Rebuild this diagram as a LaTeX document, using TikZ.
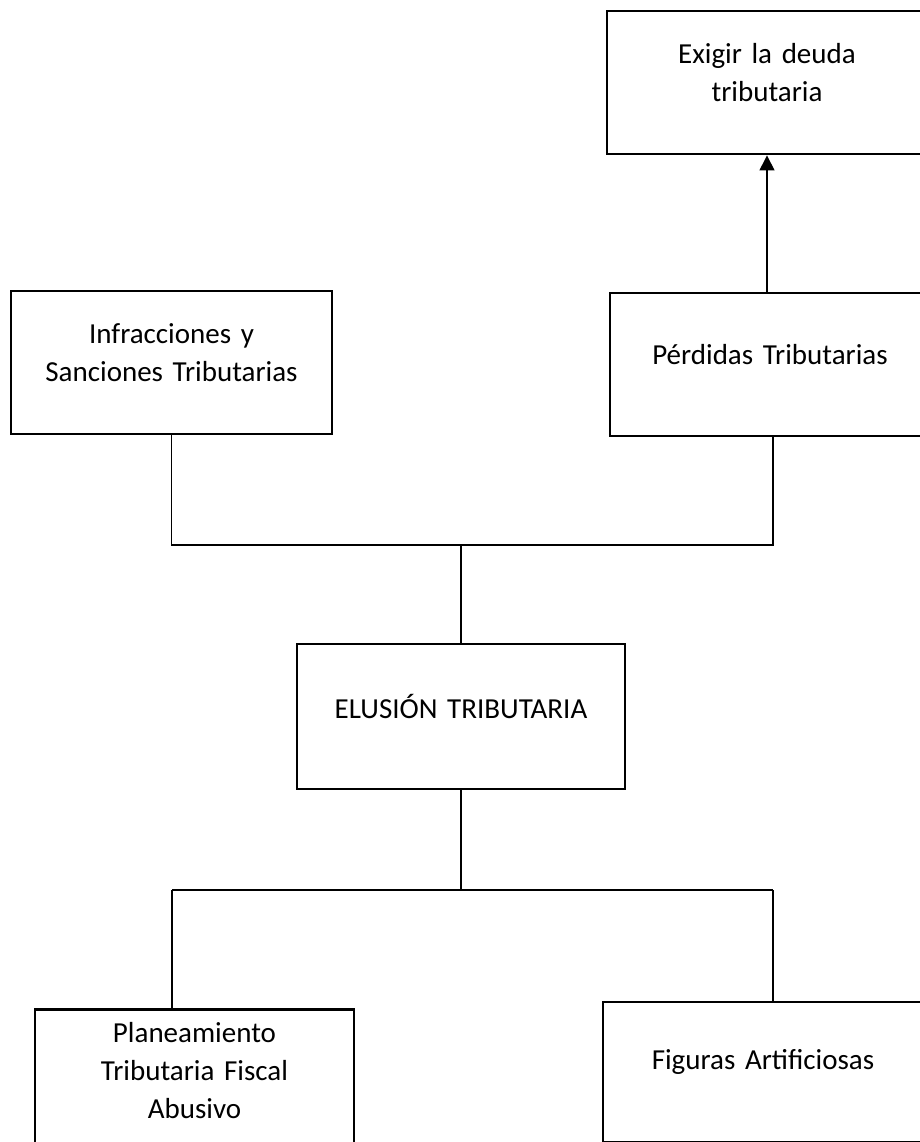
\documentclass[tikz,border=0pt]{standalone}
\usepackage{fontspec}
\setmainfont{Carlito}
\usetikzlibrary{arrows.meta, positioning, calc}
\tikzset{
  box/.style   = {draw=black, line width=1.4pt, rectangle, minimum width=160pt,
                  minimum height=71.5pt, text width=152pt, align=center, inner sep=0pt,
                  font=\fontsize{14.5}{19}\selectfont,
                  execute at end node={\par\kern10pt}},
  link/.style  = {draw=black, line width=0.55pt},
  arrow/.style = {-{Triangle[width=7.5pt, length=7.5pt]}, line width=0.55pt},
}

\begin{document}
\begin{tikzpicture}[x=0.5pt, y=-0.5pt]
  \useasboundingbox (0,0) rectangle (920,1142);

  \node[box] (exigir) at (767,82.5) {Exigir la deuda\\tributaria};
  \node[box, minimum width=160.5pt] (infr) at (171.5,362.5) {Infracciones y\\Sanciones Tributarias};
  \node[box] (perd) at (770,364.5) {Pérdidas Tributarias};
  \node[box, minimum width=164pt, minimum height=72.5pt] (elus) at (461,716.5) {ELUSIÓN TRIBUTARIA};
  \node[box, minimum width=159.5pt] (plan) at (194.5,1081) {Planeamiento\\Tributaria Fiscal\\Abusivo};
  \node[box, minimum height=70pt] (fig) at (763,1072) {Figuras Artificiosas};

  % junctions
  \coordinate (upj)  at (461,545);
  \coordinate (lowj) at (461,890);
  \coordinate (lowl) at (172,890);
  \coordinate (lowr) at (773,890);

  \draw[arrow] (perd.north -| exigir.south) -- (exigir.south);
  \draw[link] (infr.south) |- (upj) -| (lowr |- perd.south);
  \draw[link] (upj) -- (elus.north);
  \draw[link] (elus.south) -- (lowj);
  \draw[link] (lowl) -- (lowr);
  \draw[link] (lowl) -- (lowl |- plan.north);
  \draw[link] (lowr) -- (lowr |- fig.north);
\end{tikzpicture}
\end{document}
